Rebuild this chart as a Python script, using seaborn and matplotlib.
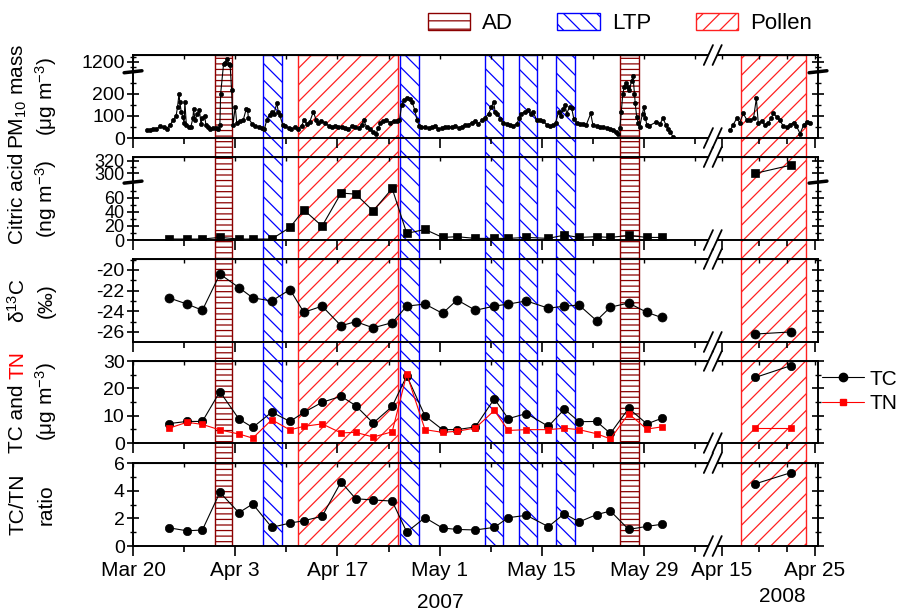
import numpy as np
import matplotlib.pyplot as plt
import matplotlib.patches as mpatches
from matplotlib.lines import Line2D
import seaborn as sns
import pandas as pd

# 2007 x values: days after Mar 20 2007;  2008 x values: day of April 2008
pm_day_07 = [1.9, 2.3, 2.8, 3.2, 3.7, 4.2, 4.6, 5.1, 5.5, 5.9,
             6.1, 6.3, 6.4, 6.6, 6.8, 7.0, 7.1, 7.3, 7.6, 7.9,
             8.2, 8.3, 8.5, 8.8, 9.1, 9.3, 9.5, 9.8, 10.0, 10.3,
             10.6, 11.0, 11.4, 11.7, 11.9, 12.0, 12.4, 12.6, 12.9, 13.1,
             13.3, 13.5, 13.7, 14.0, 14.2, 14.7, 15.1, 15.5, 15.7, 15.8,
             16.3, 16.7, 17.2, 17.6, 18.0, 18.3, 18.7, 19.0, 19.3, 19.7,
             19.9, 20.1, 20.5, 20.8, 21.3, 21.7, 22.2, 22.6, 23.1, 23.4,
             23.8, 24.2, 24.7, 25.1, 25.4, 25.8, 26.3, 26.8, 27.2, 27.7,
             28.1, 28.6, 29.0, 29.5, 30.0, 30.4, 30.9, 31.3, 31.6, 32.0,
             32.5, 32.9, 33.3, 33.6, 33.9, 34.3, 34.7, 35.2, 35.7, 36.1,
             36.5, 36.8, 37.1, 37.5, 37.9, 38.2, 38.6, 38.9, 39.2, 39.5,
             40.0, 40.5, 40.9, 41.4, 41.8, 42.3, 42.7, 43.2, 43.7, 44.1,
             44.6, 45.0, 45.5, 45.9, 46.4, 46.8, 47.3, 47.8, 48.2, 48.7,
             49.1, 49.4, 49.6, 49.9, 50.3, 50.7, 51.2, 51.6, 52.1, 52.6,
             52.9, 53.2, 53.7, 54.1, 54.5, 54.8, 55.3, 55.7, 56.2, 56.7,
             57.1, 57.6, 57.9, 58.3, 58.6, 58.9, 59.2, 59.4, 59.8, 60.1,
             60.4, 60.8, 61.2, 61.7, 62.1, 62.7, 63.0, 63.5, 64.0, 64.4,
             64.9, 65.3, 65.8, 66.2, 66.5, 66.7, 66.9, 67.1, 67.3, 67.5,
             67.8, 68.0, 68.3, 68.5, 68.7, 68.8, 69.0, 69.2, 69.4, 69.8,
             70.0, 70.2, 70.4, 70.7, 71.7, 72.2, 72.6, 73.0, 73.3, 73.6,
             74.0]
pm_val_07 = [35, 38, 42, 40, 53, 48, 43, 60, 82, 100,
             142, 200, 165, 120, 95, 70, 165, 60, 50, 48,
             90, 130, 80, 110, 125, 65, 90, 100, 58, 50,
             43, 45, 47, 40, 60, 200, 1150, 1180, 1250, 1150,
             1130, 218, 60, 142, 70, 75, 82, 130, 128, 90,
             65, 55, 50, 45, 40, 80, 105, 119, 110, 157,
             120, 104, 60, 55, 45, 40, 50, 42, 55, 80,
             65, 72, 119, 80, 70, 75, 70, 55, 50, 55,
             48, 52, 45, 40, 55, 50, 45, 60, 80, 50,
             40, 25, 20, 45, 70, 75, 80, 70, 78, 75,
             80, 150, 170, 180, 175, 165, 127, 80, 55, 48,
             50, 45, 50, 55, 40, 45, 52, 48, 50, 55,
             45, 52, 58, 60, 70, 75, 65, 80, 90, 110,
             140, 165, 120, 110, 85, 70, 65, 60, 55, 65,
             90, 110, 120, 127, 110, 119, 81, 80, 75, 60,
             55, 58, 70, 119, 100, 130, 150, 110, 140, 134,
             85, 70, 65, 62, 60, 111, 60, 55, 50, 48,
             45, 40, 35, 25, 20, 45, 120, 200, 233, 249,
             230, 218, 260, 280, 200, 157, 96, 70, 50, 110,
             142, 90, 58, 55, 73, 65, 89, 60, 43, 25,
             5]
pm_day_08 = [15.9, 16.2, 16.6, 16.9, 17.3, 17.7, 18.0, 18.4, 18.7, 18.9, 19.3, 19.6, 20.0,
             20.3, 20.5, 20.9, 21.2, 21.6, 22.0, 22.3, 22.7, 23.0, 23.4, 23.8, 24.1, 24.5]
pm_val_08 = [35, 60, 89, 70, 111, 80, 81, 90, 180, 70, 75, 60, 70,
             90, 111, 96, 80, 55, 50, 60, 70, 55, 20, 60, 73, 70]

sample_day_07 = [4.9, 7.4, 9.5, 11.9, 14.5, 16.4, 19.0, 21.5, 23.4, 25.9,
                 28.5, 30.5, 32.9, 35.5, 37.5, 40.0, 42.4, 44.4, 46.9, 49.5,
                 51.4, 53.9, 56.9, 59.1, 61.1, 63.5, 65.4, 67.9, 70.4, 72.4]
sample_day_08 = [18.6, 22.4]

citric_07 = [1.4, 1.4, 1.4, 3.7, 1.4, 1.4, 1.4, 17.8, 42.6, 19.7,
             66.5, 65, 41.2, 73, 9.4, 15, 3.7, 4.7, 2.3, 2.3,
             2.3, 3.7, 2.3, 7, 3.7, 4.7, 3.7, 6.5, 3.7, 3.7]
citric_08 = [300, 313]

d13c_07 = [-22.7, -23.3, -23.9, -20.4, -21.7, -22.7, -23.0, -21.9, -24.1, -23.5,
           -25.4, -25.0, -25.6, -25.1, -23.5, -23.3, -24.2, -22.9, -23.9, -23.5,
           -23.3, -23.0, -23.7, -23.5, -23.4, -24.9, -23.6, -23.2, -24.1, -24.6]
d13c_08 = [-26.2, -26.0]

tc_07 = [7.1, 7.9, 7.9, 18.8, 8.8, 5.7, 11.3, 7.9, 11.2, 14.9,
         17.1, 13.7, 7.3, 13.4, 24.6, 9.9, 4.9, 4.9, 5.9, 16.2,
         8.9, 10.8, 6.1, 12.4, 7.8, 7.9, 3.5, 12.7, 7.0, 9.0]
tc_08 = [24.0, 28.3]
tn_07 = [5.4, 7.6, 6.8, 4.8, 3.3, 1.8, 8.5, 4.8, 6.1, 7.0,
         3.7, 3.9, 2.2, 4.1, 25.2, 4.9, 3.9, 4.3, 5.5, 11.9,
         4.6, 4.9, 4.9, 5.4, 4.9, 3.4, 1.5, 10.7, 5.1, 5.9]
tn_08 = [5.4, 5.4]

ratio_07 = [1.32, 1.10, 1.16, 3.88, 2.41, 3.04, 1.35, 1.66, 1.83, 2.15,
            4.63, 3.42, 3.33, 3.25, 1.01, 2.05, 1.30, 1.20, 1.16, 1.35,
            2.05, 2.22, 1.40, 2.34, 1.74, 2.27, 2.53, 1.20, 1.42, 1.57]
ratio_08 = [4.5, 5.3]

# episodes (start, end)
ad_07 = [(11.2, 13.6), (66.7, 69.3)]
ltp_07 = [(17.8, 20.4), (36.6, 39.2), (48.2, 50.7), (52.9, 55.3), (57.9, 60.5)]
pollen_07 = [(22.6, 36.3)]
pollen_08 = [(17.1, 24.0)]

ticks_07 = [0, 14, 28, 42, 56, 70]
ticklabels_07 = ['Mar 20', 'Apr 3', 'Apr 17', 'May 1', 'May 15', 'May 29']
minor_07 = [7, 21, 35, 49, 63, 77]
ticks_08 = [15, 25]
ticklabels_08 = ['Apr 15', 'Apr 25']
minor_08 = [19, 22]

XMAX = 93.84
XB = 78.2  # where the time axis is cut


def pos08(d):
    # 2008 days are squeezed into the right end of the axis
    return 80.68 + (np.asarray(d, float) - 15) * 1.274


def broken(lo, hi, k):
    eps = 1e-4
    mid = lo + (hi - lo) * eps

    def fwd(v):
        v = np.asarray(v, float)
        return np.where(v <= lo, v, np.where(v < hi, lo + (v - lo) * eps, mid + (v - hi) * k))

    def inv(t):
        t = np.asarray(t, float)
        return np.where(t <= lo, t, np.where(t < mid, lo + (t - lo) / eps, hi + (t - mid) / k))
    return fwd, inv


sns.set_style('ticks', {'axes.edgecolor': 'black', 'xtick.color': 'black', 'ytick.color': 'black',
                        'text.color': 'black', 'axes.labelcolor': 'black'})
plt.rcParams['font.family'] = ['Liberation Sans', 'DejaVu Sans']
plt.rcParams['mathtext.fontset'] = 'custom'
plt.rcParams['mathtext.rm'] = 'Liberation Sans'
plt.rcParams['mathtext.it'] = 'Liberation Sans:italic'
plt.rcParams['axes.unicode_minus'] = False
plt.rcParams['hatch.linewidth'] = 0.9

AD_C, LTP_C, POL_C = '#8b0000', '#0000ff', '#ff2020'

fig = plt.figure(figsize=(9.1, 6.12), dpi=100)
left, width = 0.1462, 0.7527
rows = [(0.7745, 0.1356), (0.6078, 0.1356), (0.4412, 0.1356), (0.2761, 0.1340), (0.1078, 0.1356)]

bg = fig.add_axes([left, 0.1078, width, 0.9101 - 0.1078])
bg.set_xlim(0, XMAX)
bg.set_ylim(0, 1)
bg.axis('off')
for a, b in ad_07:
    bg.axvspan(a, b, facecolor='none', edgecolor=AD_C, hatch='---', lw=1.0)
for a, b in ltp_07:
    bg.axvspan(a, b, facecolor='none', edgecolor=LTP_C, hatch='\\\\', lw=1.0)
for a, b in pollen_07:
    bg.axvspan(a, b, facecolor='none', edgecolor=POL_C, hatch='//', lw=1.0)
for a, b in pollen_08:
    bg.axvspan(pos08(a), pos08(b), facecolor='none', edgecolor=POL_C, hatch='//', lw=1.0)

axes = [fig.add_axes([left, b, width, h]) for b, h in rows]


def series(ax, x07, y07, x08, y08, color, marker, ms, lw=0.8):
    for xs, ys in ((x07, y07), (pos08(x08), y08)):
        df = pd.DataFrame({'x': np.asarray(xs, float), 'y': np.asarray(ys, float)})
        sns.lineplot(data=df, x='x', y='y', ax=ax, color=color, marker=marker, markersize=ms,
                     markeredgecolor=color, markeredgewidth=0.5, linewidth=lw, sort=False)


fwd1, inv1 = broken(300, 1000, 0.2294)
fwd2, inv2 = broken(82, 286, 0.887)
axes[0].set_yscale('function', functions=(fwd1, inv1))
axes[1].set_yscale('function', functions=(fwd2, inv2))

series(axes[0], pm_day_07, pm_val_07, pm_day_08, pm_val_08, 'black', 'o', 3.0, lw=0.8)
series(axes[1], sample_day_07, citric_07, sample_day_08, citric_08, 'black', 's', 5.5)
series(axes[2], sample_day_07, d13c_07, sample_day_08, d13c_08, 'black', 'o', 6.5)
series(axes[3], sample_day_07, tc_07, sample_day_08, tc_08, 'black', 'o', 6)
series(axes[3], sample_day_07, tn_07, sample_day_08, tn_08, 'red', 's', 5)
series(axes[4], sample_day_07, ratio_07, sample_day_08, ratio_08, 'black', 'o', 6)

axes[0].set_ylim(0, 1330)
axes[0].set_yticks([0, 100, 200, 1200])
axes[0].set_yticks([50, 150, 250, 1100, 1300], minor=True)
axes[1].set_ylim(0, 326)
axes[1].set_yticks([0, 20, 40, 60, 300, 320])
axes[1].set_yticks([10, 30, 50, 70, 310], minor=True)
axes[2].set_ylim(-26.97, -18.94)
axes[2].set_yticks([-26, -24, -22, -20])
axes[2].set_yticks([-25, -23, -21, -19], minor=True)
axes[3].set_ylim(0, 30)
axes[3].set_yticks([0, 10, 20, 30])
axes[3].set_yticks([5, 15, 25], minor=True)
axes[4].set_ylim(0, 6)
axes[4].set_yticks([0, 2, 4, 6])
axes[4].set_yticks([1, 3, 5], minor=True)

major_x = list(ticks_07) + list(pos08(ticks_08))
minor_x = list(minor_07) + list(pos08(minor_08))
for i, ax in enumerate(axes):
    ax.set_facecolor('none')
    ax.set_xlim(0, XMAX)
    ax.set_xlabel('')
    ax.set_ylabel('')
    ax.set_xticks(major_x)
    ax.set_xticks(minor_x, minor=True)
    ax.tick_params(axis='x', which='major', direction='out', length=7, width=1.2)
    ax.tick_params(axis='x', which='minor', direction='out', length=4, width=1.2)
    ax.tick_params(axis='y', which='major', direction='inout', length=8, width=1.2,
                   right=True, labelsize=13 if i == 1 else 14, pad=2)
    ax.tick_params(axis='y', which='minor', direction='inout', length=5, width=1.0, right=True)
    for s in ax.spines.values():
        s.set_linewidth(1.4)
    top = ax.secondary_xaxis('top')
    top.set_xticks(major_x)
    top.set_xticks(minor_x, minor=True)
    top.tick_params(which='both', direction='in', length=3, width=1.0, labeltop=False)
    if i < 4:
        ax.tick_params(axis='x', labelbottom=False)
    # cut of the time axis
    tr = ax.get_xaxis_transform()
    for y in (0, 1):
        ax.add_patch(mpatches.Polygon([(XB + 0.42, y - 0.04), (XB + 0.83, y + 0.04),
                                       (XB + 2.03, y + 0.04), (XB + 1.62, y - 0.04)],
                                      closed=True, transform=tr, facecolor='white',
                                      edgecolor='none', clip_on=False, zorder=5))
        for dx in (0, 1.2):
            ax.plot([XB + dx, XB + dx + 1.25], [y - 0.12, y + 0.12], transform=tr,
                    color='black', lw=1.3, clip_on=False, zorder=6)

axes[4].set_xticklabels(ticklabels_07 + ticklabels_08, fontsize=15)

# cut of the y axes
for ax, fwd, lo, ymax in ((axes[0], fwd1, 300, 1330), (axes[1], fwd2, 82, 326)):
    f = float(fwd(lo) / fwd(ymax))
    for x in (0, 1):
        ax.plot([x - 0.013, x + 0.013], [f - 0.012, f + 0.012], transform=ax.transAxes,
                color='black', lw=2.5, clip_on=False, zorder=6)

X1, X2 = -0.168, -0.127
labels = [('PM$_{10}$ mass', '(μg m$^{-3}$)'),
          ('Citric acid', '(ng m$^{-3}$)'),
          ('δ$^{13}$C', '(‰)'),
          (None, '(μg m$^{-3}$)'),
          ('TC/TN', 'ratio')]
for ax, (l1, l2) in zip(axes, labels):
    if l1:
        ax.text(X1, 0.5, l1, rotation=90, ha='center', va='center', fontsize=15, transform=ax.transAxes)
    ax.text(X2, 0.5, l2, rotation=90, ha='center', va='center', fontsize=15, transform=ax.transAxes)

# "TC and TN" with TN in red
ax = axes[3]
full = ax.text(X1, 0.5, 'TC and TN', rotation=90, ha='center', va='center', fontsize=15,
               transform=ax.transAxes)
fig.canvas.draw()
span = full.get_window_extent().height / ax.get_window_extent().height
full.remove()
ax.text(X1, 0.5 - span / 2, 'TC and', rotation=90, ha='center', va='bottom', fontsize=15,
        transform=ax.transAxes)
ax.text(X1, 0.5 + span / 2, 'TN', rotation=90, ha='center', va='top', fontsize=15,
        color='red', transform=ax.transAxes)

handles = [Line2D([], [], color='black', marker='o', markersize=6, lw=0.8),
           Line2D([], [], color='red', marker='s', markersize=5, lw=0.8)]
ax.legend(handles, ['TC', 'TN'], loc='center left', bbox_to_anchor=(1.0, 0.63), frameon=False,
          fontsize=15, handlelength=2.0, handletextpad=0.25, borderaxespad=0.0, borderpad=0.2,
          labelspacing=0.25)

top_handles = [mpatches.Patch(facecolor='white', edgecolor=AD_C, hatch='--'),
               mpatches.Patch(facecolor='white', edgecolor=LTP_C, hatch='\\\\'),
               mpatches.Patch(facecolor='white', edgecolor=POL_C, hatch='//')]
fig.legend(top_handles, ['AD', 'LTP', 'Pollen'], loc='center', bbox_to_anchor=(0.681, 0.962),
           ncol=3, frameon=False, fontsize=16, handlelength=1.9, handleheight=0.8,
           columnspacing=2.0, handletextpad=0.55)

fig.text(440 / 910, 1 - 603 / 612, '2007', ha='center', va='center', fontsize=15)
fig.text(782 / 910, 1 - 596 / 612, '2008', ha='center', va='center', fontsize=15)

fig.savefig('out.png', dpi=100)
